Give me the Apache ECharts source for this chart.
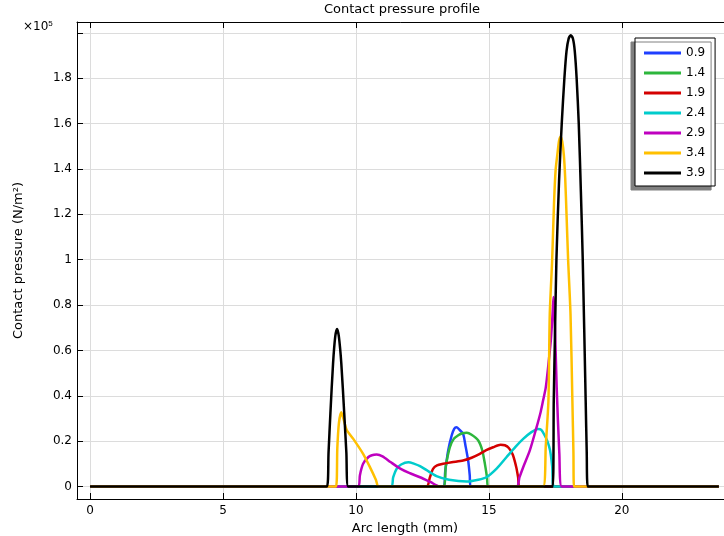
<!DOCTYPE html>
<html>
<head>
<meta charset="utf-8">
<script src="https://cdn.jsdelivr.net/npm/echarts@6/dist/echarts.min.js"></script>
<style>
html, body { margin: 0; padding: 0; background: #fff; }
#main { width: 724px; height: 536px; }
</style>
</head>
<body>
<div id="main"></div>
<script>
// tick values
var xTicks = [0, 5, 10, 15, 20];
var yTicks = [0, 0.2, 0.4, 0.6, 0.8, 1, 1.2, 1.4, 1.6, 1.8, 2];
var yLabels = [0, 0.2, 0.4, 0.6, 0.8, 1, 1.2, 1.4, 1.6, 1.8];

var names = ['0.9', '1.4', '1.9', '2.4', '2.9', '3.4', '3.9'];
var colors = ['#1f3fff', '#2db63c', '#d40000', '#00cccc', '#bf00bf', '#ffc000', '#000000'];

// arc length (mm), contact pressure (x1e5 N/m^2)
var p09 = [[0, 0], [13.28, 0], [13.36, 0.07], [13.47, 0.159], [13.6, 0.225], [13.7, 0.255], [13.78, 0.261],
    [13.88, 0.252], [14.03, 0.232], [14.12, 0.18], [14.22, 0.115], [14.28, 0.05], [14.31, 0], [23.65, 0]];
var p14 = [[0, 0], [13.28, 0], [13.38, 0.09], [13.53, 0.173], [13.68, 0.21], [13.85, 0.226], [14.0, 0.235],
    [14.17, 0.237], [14.35, 0.228], [14.6, 0.203], [14.75, 0.16], [14.85, 0.1], [14.93, 0.04], [14.97, 0], [23.65, 0]];
var p19 = [[0, 0], [12.65, 0], [12.78, 0.04], [12.9, 0.078], [13.05, 0.093], [13.28, 0.1], [13.6, 0.107],
    [14.03, 0.115], [14.35, 0.127], [14.66, 0.144], [14.9, 0.16], [15.16, 0.173], [15.44, 0.184], [15.6, 0.182],
    [15.75, 0.17], [15.9, 0.14], [16.03, 0.085], [16.1, 0.04], [16.15, 0], [23.65, 0]];
var p24 = [[0, 0], [11.32, 0], [11.4, 0.04], [11.53, 0.078], [11.7, 0.097], [11.97, 0.107], [12.2, 0.1],
    [12.41, 0.09], [12.66, 0.072], [13.03, 0.046], [13.5, 0.03], [14.16, 0.022], [14.6, 0.03], [14.91, 0.041],
    [15.3, 0.08], [15.66, 0.129], [16.0, 0.175], [16.29, 0.21], [16.6, 0.24], [16.85, 0.254], [16.97, 0.25],
    [17.1, 0.225], [17.2, 0.2], [17.3, 0.16], [17.38, 0.09], [17.44, 0], [23.65, 0]];
var p29 = [[0, 0], [10.09, 0], [10.15, 0.05], [10.27, 0.1], [10.46, 0.129], [10.6, 0.138], [10.78, 0.141],
    [11.0, 0.133], [11.3, 0.108], [11.65, 0.08], [12.0, 0.06], [12.41, 0.041], [12.8, 0.02], [13.16, 0],
    [16.04, 0], [16.15, 0.04], [16.29, 0.085], [16.54, 0.159], [16.79, 0.26], [16.95, 0.33], [17.04, 0.38],
    [17.14, 0.437], [17.24, 0.54], [17.33, 0.645], [17.39, 0.75], [17.43, 0.836], [17.47, 0.76],
    [17.55, 0.437], [17.65, 0.145], [17.74, 0], [23.65, 0]];
var p34 = [[0, 0], [9.25, 0], [9.3, 0.17], [9.36, 0.28], [9.45, 0.327], [9.55, 0.29], [9.65, 0.25],
    [9.9, 0.21], [10.27, 0.144], [10.55, 0.08], [10.75, 0.03], [10.86, 0],
    [17.04, 0], [17.14, 0.18], [17.24, 0.38], [17.29, 0.76], [17.38, 1.0], [17.45, 1.25], [17.51, 1.395],
    [17.58, 1.469], [17.64, 1.525], [17.7, 1.542], [17.76, 1.52], [17.82, 1.46], [17.87, 1.36],
    [17.92, 1.2], [17.98, 1.0], [18.07, 0.76], [18.14, 0.38], [18.18, 0.15], [18.2, 0], [23.65, 0]];
var p39 = [[0, 0], [8.91, 0], [8.97, 0.15], [9.04, 0.323], [9.14, 0.543], [9.22, 0.66], [9.29, 0.695],
    [9.36, 0.66], [9.45, 0.543], [9.56, 0.323], [9.64, 0.15], [9.71, 0],
    [17.4, 0], [17.44, 0.38], [17.49, 0.7], [17.54, 1.0], [17.64, 1.35], [17.74, 1.6], [17.84, 1.8],
    [17.92, 1.92], [18.0, 1.975], [18.08, 1.99], [18.16, 1.975], [18.23, 1.92], [18.3, 1.8], [18.38, 1.6],
    [18.46, 1.3], [18.53, 1.0], [18.64, 0.38], [18.68, 0.15], [18.72, 0], [23.65, 0]];

var profiles = [p09, p14, p19, p24, p29, p34, p39];

var myChart = echarts.init(document.getElementById('main'));

var font = 'DejaVu Sans';
var series = [];
for (var i = 0; i < names.length; i++) {
    series.push({
        name: names[i],
        type: 'line',
        data: profiles[i],
        showSymbol: false,
        smooth: 0.25,
        color: colors[i],
        lineStyle: { width: 2.5, color: colors[i] },
        emphasis: { disabled: true },
        animation: false
    });
}

var option = {
    animation: false,
    title: {
        text: 'Contact pressure profile',
        left: 402,
        textAlign: 'center',
        top: 3,
        padding: 0,
        textStyle: { fontFamily: font, fontSize: 13, fontWeight: 'normal', color: '#000' }
    },
    legend: {
        orient: 'vertical',
        left: 635,
        top: 38,
        padding: [8, 10, 6, 9],
        itemWidth: 37,
        itemHeight: 3,
        itemGap: 6,
        icon: 'rect',
        backgroundColor: '#fff',
        borderColor: '#000',
        borderWidth: 1,
        borderRadius: 0,
        shadowColor: '#808080',
        shadowBlur: 0,
        shadowOffsetX: -4,
        shadowOffsetY: 4,
        textStyle: { fontFamily: font, fontSize: 12, color: '#000', lineHeight: 14 },
        data: names
    },
    graphic: [{
        type: 'text',
        left: 23,
        top: 20,
        style: {
            text: '×10{s|5}',
            rich: { s: { fontSize: 8, verticalAlign: 'top', padding: [0, 0, 6, 0] } },
            font: '12px "DejaVu Sans"',
            fill: '#000'
        }
    }],
    grid: { left: 77, right: -1, top: 22, bottom: 37, outerBoundsMode: 'none', containLabel: false },
    xAxis: [{
        type: 'value',
        min: -0.49,
        max: 23.88,
        name: 'Arc length (mm)',
        nameLocation: 'middle',
        nameGap: 19,
        nameTextStyle: { fontFamily: font, fontSize: 13, color: '#000', padding: [0, 0, 0, 8] },
        axisLine: { show: true, onZero: false, lineStyle: { color: '#000', width: 1 } },
        axisTick: { show: true, inside: true, length: 6, customValues: xTicks, lineStyle: { color: '#000' } },
        axisLabel: { customValues: xTicks, margin: 6, fontFamily: font, fontSize: 12, color: '#000' },
        splitLine: { show: true, lineStyle: { color: '#dcdcdc', width: 1 } }
    }, {
        type: 'value',
        position: 'top',
        min: -0.49,
        max: 23.88,
        axisLine: { show: true, onZero: false, lineStyle: { color: '#000', width: 1 } },
        axisTick: { show: true, inside: true, length: 6, customValues: xTicks, lineStyle: { color: '#000' } },
        axisLabel: { show: false },
        splitLine: { show: false }
    }],
    yAxis: {
        type: 'value',
        min: -0.055,
        max: 2.048,
        name: 'Contact pressure (N/m²)',
        nameLocation: 'middle',
        nameGap: 52,
        nameTextStyle: { fontFamily: font, fontSize: 13, color: '#000' },
        axisLine: { show: true, onZero: false, lineStyle: { color: '#000', width: 1 } },
        axisTick: { show: true, inside: true, length: 6, customValues: yTicks, lineStyle: { color: '#000' } },
        axisLabel: { customValues: yLabels, margin: 5, fontFamily: font, fontSize: 12, color: '#000' },
        splitLine: { show: true, lineStyle: { color: '#dcdcdc', width: 1 } }
    },
    series: series
};

option && myChart.setOption(option);
</script>
</body>
</html>
